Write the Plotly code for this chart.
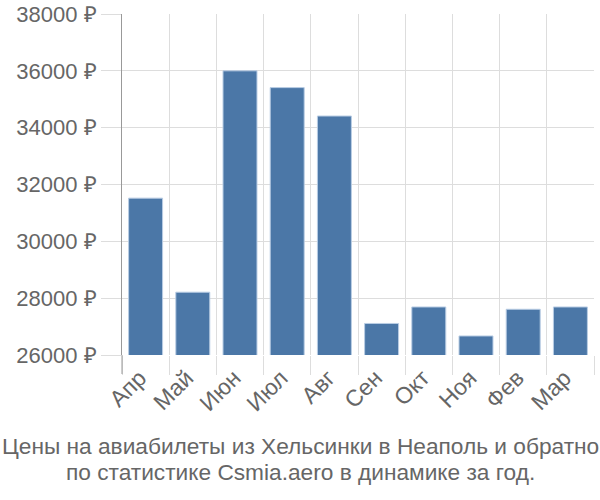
import plotly.graph_objects as go

months = ["Апр", "Май", "Июн", "Июл", "Авг", "Сен", "Окт", "Ноя", "Фев", "Мар"]
prices = [31520, 28210, 36000, 35410, 34410, 27110, 27690, 26670, 27610, 27690]
y_ticks = [26000, 28000, 30000, 32000, 34000, 36000, 38000]
y_labels = [f"{v} ₽" for v in y_ticks]
title_lines = ["Цены на авиабилеты из Хельсинки в Неаполь и обратно",
               "по статистике Csmia.aero в динамике за год."]

L, R, T, B = 122, 6, 14, 145
W, H = 600, 500
ph = H - T - B
cx = (W / 2 - L) / (W - L - R)

fig = go.Figure(go.Bar(
    x=months, y=prices,
    marker=dict(color="#4b77a7", line=dict(color="#b9cde4", width=1)),
))

anns = []
for i, line in enumerate(title_lines):
    anns.append(dict(
        text=line, x=cx, xref="paper", y=0, yref="paper",
        yshift=-(446 - (H - B)) - 26 * i, yanchor="middle", xanchor="center",
        showarrow=False, font=dict(size=22.7, color="#666666"),
    ))

fig.update_layout(
    width=W, height=H,
    margin=dict(l=L, r=R, t=T, b=B, autoexpand=False),
    paper_bgcolor="white", plot_bgcolor="white",
    font=dict(family="Liberation Sans, Arial, sans-serif", color="#666666"),
    bargap=0.28,
    showlegend=False,
    annotations=anns,
    shapes=[dict(type="line", xref="paper", yref="paper", x0=0, x1=0,
                 y0=0, y1=-19 / ph, line=dict(color="#999999", width=1))],
)
fig.update_xaxes(
    type="category", tickson="boundaries", ticks="outside", ticklen=19,
    tickcolor="#dddddd", showgrid=True, gridcolor="#dddddd", gridwidth=1,
    tickangle=-45, tickfont=dict(size=23, color="#666666"),
    ticklabelshift=-6, ticklabelstandoff=4,
    showline=False, zeroline=False, automargin=False,
)
fig.update_yaxes(
    range=[26000, 38000], tickvals=y_ticks, ticktext=y_labels,
    ticks="outside", ticklen=20, tickcolor="#dddddd",
    showgrid=True, gridcolor="#dddddd", gridwidth=1,
    showline=True, linecolor="#999999", linewidth=1,
    tickfont=dict(size=22, color="#666666"), zeroline=False, automargin=False,
)

fig.write_html("out.html")
